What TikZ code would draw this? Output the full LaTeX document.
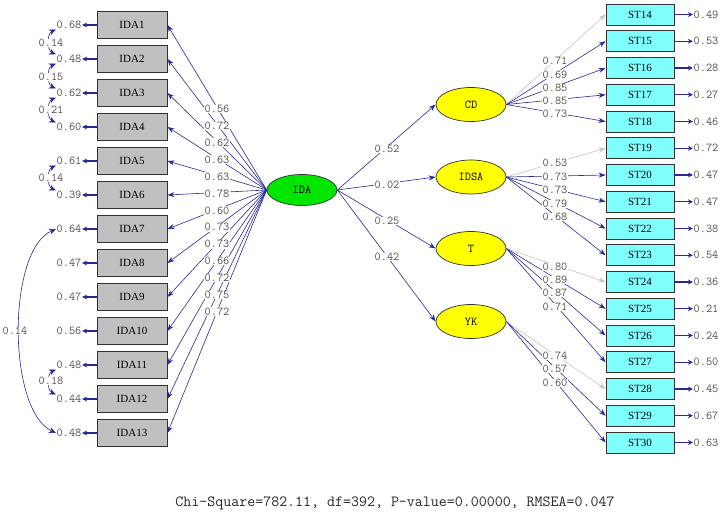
\documentclass[tikz,border=0pt]{standalone}
\usepackage{fontspec}
\setmainfont{Liberation Serif}
\usetikzlibrary{shapes.geometric,arrows.meta}
\definecolor{linec}{RGB}{40,40,150}
\definecolor{fixc}{RGB}{195,195,195}
\definecolor{numc}{RGB}{85,75,75}
\definecolor{boxg}{RGB}{192,192,192}
\definecolor{boxc}{RGB}{128,255,255}
\definecolor{latg}{RGB}{0,230,0}
\definecolor{laty}{RGB}{255,255,0}
\definecolor{bord}{RGB}{50,50,50}
\tikzset{
  lbox/.style={draw=bord, line width=0.9pt, fill=boxg, minimum width=70pt, minimum height=27pt, inner sep=0pt, font=\fontsize{11}{11}\selectfont},
  sbox/.style={draw=bord, line width=0.9pt, fill=boxc, minimum width=68pt, minimum height=21pt, inner sep=0pt, font=\fontsize{11}{11}\selectfont},
  latv/.style={ellipse, draw=bord, line width=0.7pt, minimum width=70pt, minimum height=34pt, inner sep=0pt, font=\ttfamily\fontsize{12}{12}\selectfont},
  num/.style={text=numc, inner sep=0.5pt, font=\ttfamily\fontsize{12}{12}\selectfont},
  lab/.style={num, fill=white},
  conn/.style={draw=linec, line width=0.6pt, -{Stealth[length=7pt,width=5pt]}},
  fixed/.style={draw=fixc, line width=0.6pt, -{Stealth[length=7pt,width=5pt]}},
  errarr/.style={draw=linec, line width=1.1pt, -{Stealth[length=5pt,width=5pt]}},
  corr/.style={draw=linec, line width=0.6pt, {Stealth[length=7pt,width=6pt]}-{Stealth[length=7pt,width=6pt]}}
}
\begin{document}
\begin{tikzpicture}[x=1pt,y=-1pt]
\useasboundingbox (0,0) rectangle (727,512);
% left indicators
\foreach \v [count=\i] in {0.68,0.48,0.62,0.60,0.61,0.39,0.64,0.47,0.47,0.56,0.48,0.44,0.48} {
  \node[lbox] (a\i) at (132,{25+34*(\i-1)}) {IDA\i};
  \node[num] (e\i) at (69,{25+34*(\i-1)}) {\v};
  \draw[errarr] (a\i.west) -- (e\i.east);
}
% IDA latent
\node[latv, fill=latg, minimum height=31pt] (ida) at (302,190) {IDA};
\foreach \i in {1,...,13} { \draw[conn] (ida.west) -- (a\i.east); }
\foreach \v [count=\i] in {0.56,0.72,0.62,0.63,0.63,0.78,0.60,0.73,0.73,0.66,0.72,0.75,0.72} {
  \node[lab] (la\i) at (217,{109+16.9*(\i-1)}) {\v};
}
% correlated errors
\draw[corr] (e1.south west) .. controls +(-9,4) and +(-9,-4) .. (e2.north west);
\draw[corr] (e2.south west) .. controls +(-9,4) and +(-9,-4) .. (e3.north west);
\draw[corr] (e3.south west) .. controls +(-9,4) and +(-9,-4) .. (e4.north west);
\draw[corr] (e5.south west) .. controls +(-9,4) and +(-9,-4) .. (e6.north west);
\draw[corr] (e11.south west) .. controls +(-9,4) and +(-9,-4) .. (e12.north west);
\draw[corr] (e7.west) .. controls (7,250) and (7,410) .. (e13.west);
\node[lab] (c12) at (51,43) {0.14};
\node[lab] (c23) at (51,77) {0.15};
\node[lab] (c34) at (51,110) {0.21};
\node[lab] (c56) at (51,178) {0.14};
\node[lab] (c1112) at (51,381) {0.18};
\node[lab] (c713) at (15,331) {0.14};
% second-order latents
\node[latv, fill=laty] (cd) at (471,104.5) {CD};
\node[latv, fill=laty] (idsa) at (471,177) {IDSA};
\node[latv, fill=laty] (t) at (471,248.5) {T};
\node[latv, fill=laty] (yk) at (471,321.5) {YK};
\draw[conn] (ida.east) -- (cd.west);
\draw[conn] (ida.east) -- (idsa.west);
\draw[conn] (ida.east) -- (t.west);
\draw[conn] (ida.east) -- (yk.west);
\node[lab] (g1) at (387,149) {0.52};
\node[lab] (g2) at (387,185) {0.02};
\node[lab] (g3) at (387,221) {0.25};
\node[lab] (g4) at (387,257) {0.42};
% right indicators
\foreach \v [count=\k from 14] in {0.49,0.53,0.28,0.27,0.46,0.72,0.47,0.47,0.38,0.54,0.36,0.21,0.24,0.50,0.45,0.67,0.63} {
  \node[sbox] (s\k) at (640,{14.5+26.75*(\k-14)}) {ST\k};
  \node[num] (r\k) at (706,{14.5+26.75*(\k-14)}) {\v};
  \draw[errarr] (s\k.east) -- (r\k.west);
}
\foreach \f/\k/\st in {cd/14/fixed,cd/15/conn,cd/16/conn,cd/17/conn,cd/18/conn,
  idsa/19/fixed,idsa/20/conn,idsa/21/conn,idsa/22/conn,idsa/23/conn,
  t/24/fixed,t/25/conn,t/26/conn,t/27/conn,
  yk/28/fixed,yk/29/conn,yk/30/conn} {
  \draw[\st] (\f.east) -- (s\k.west);
}
\foreach \v/\ly/\k in {0.71/61/14,0.69/74.5/15,0.85/88/16,0.85/101/17,0.73/114/18,
  0.53/163/19,0.73/177/20,0.73/190/21,0.79/204/22,0.68/217/23,
  0.80/267/24,0.89/280/25,0.87/293/26,0.71/307/27,
  0.74/356/28,0.57/369/29,0.60/383/30} {
  \node[lab] (l\k) at (555,\ly) {\v};
}
% fit statistics
\node[text=black!85, inner sep=0pt, font=\ttfamily\fontsize{15.5}{16}\selectfont] (fit) at (395,503) {Chi-Square=782.11, df=392, P-value=0.00000, RMSEA=0.047};
\end{tikzpicture}
\end{document}
